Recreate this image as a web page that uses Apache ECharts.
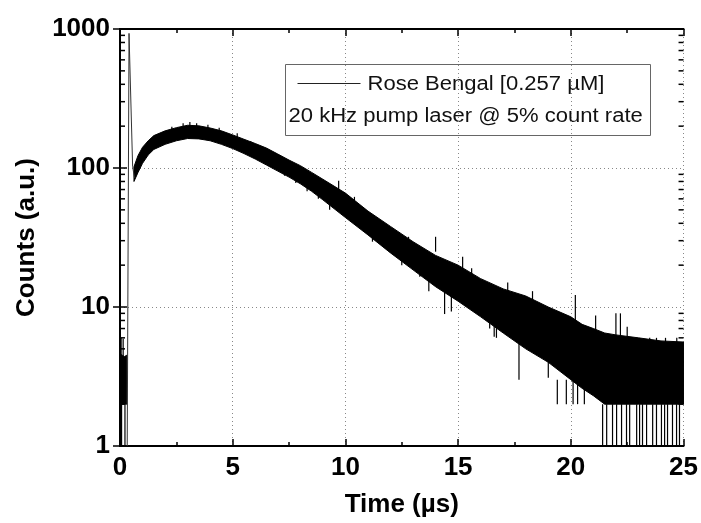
<!DOCTYPE html>
<html>
<head>
<meta charset="utf-8">
<script src="https://cdn.jsdelivr.net/npm/echarts@6/dist/echarts.min.js"></script>
<style>
html,body{margin:0;padding:0;background:#fff;}
#chart{width:701px;height:523px;}
</style>
</head>
<body>
<div id="chart"></div>
<script>
// ---- data ----
const xTicks = [0, 5, 10, 15, 20, 25];
const yTicks = [1, 10, 100, 1000];
const yMinorTicks = [2,3,4,5,6,7,8,9,20,30,40,50,60,70,80,90,200,300,400,500,600,700,800,900];

// pre-pulse background noise (µs, counts)
const earlyTime = [0.0, 0.10, 0.20, 0.30];
const earlyLow  = [2.0, 2.0, 2.0, 2.0];
const earlyHigh = [4.6, 4.5, 4.4, 4.5];

// instrument pulse (scatter) spike
const pulseTime   = [0.32, 0.40, 0.56, 0.64];
const pulseCounts = [1, 930, 103, 85];

// decay: dense noise band, lower and upper edges
const decayTime = [0.62, 0.8, 1.0, 1.25, 1.5, 2, 2.5, 3, 3.5, 4, 4.5, 5, 5.5, 6, 6.5, 7, 7.5, 8, 8.5, 9, 10, 11, 12, 13, 14, 15, 16, 17, 18, 19, 20, 20.5, 21, 21.5, 22, 23, 24, 25];
const decayLow  = [80, 93, 108, 124, 136, 148, 157, 163, 162, 157, 148, 138, 127, 116, 105, 95, 86, 77, 68, 59, 44, 33, 24.5, 18.5, 14, 11, 8.5, 6.5, 5, 4, 3, 2.6, 2.3, 2, 2, 2, 2, 2];
const decayHigh = [102, 123, 141, 157, 171, 185, 195, 203, 201, 194, 185, 173, 161, 150, 139, 126, 114, 104, 93, 83, 66, 49, 38, 29.5, 23.5, 20, 16, 13.5, 12, 10, 8.5, 7.5, 7, 6.5, 6.3, 6, 5.7, 5.6];

// isolated noise spikes: time, low, high
const spikeTime = [0.05, 0.07, 0.14, 0.22,
  1.1, 1.7, 2.3, 2.8, 3.1, 3.4, 3.9, 4.4, 5.2, 5.8, 6.3, 6.9, 7.3, 7.8, 8.3, 8.8, 9.3,
  9.7, 10.4, 10.8, 11.2, 11.5, 11.9, 12.5, 12.8, 13.3, 13.7, 14.0, 14.4, 14.7, 15.2, 15.6, 16.3, 16.4, 16.6, 16.7, 17.2, 17.7, 18.3, 19.0, 19.4, 19.8, 20.1, 20.2, 20.3, 20.6, 21.1, 22.0, 22.2, 22.5, 23.5, 23.8, 24.2, 24.7,
  21.41, 21.59, 21.85, 22.03, 22.25, 22.47, 22.61, 22.92, 23.05, 23.18, 23.36, 23.63, 23.80, 24.02, 24.16, 24.29, 24.51, 24.69, 24.82];
const spikeLow  = [4.5, 1, 4.4, 1,
  120, 150, 165, 175, 180, 178, 175, 168, 150, 128, 116, 100, 88, 78, 68, 60, 50,
  70, 50, 38, 29.5, 29.5, 26, 20, 21, 16.5, 13, 25, 8.9, 9.3, 18, 10, 7.9, 7, 6.1, 6, 9, 3, 7, 3.1, 2, 2, 2, 7, 2, 2, 6, 5, 5, 5, 4, 4, 4, 4,
  1, 1, 1, 1, 1, 1, 1, 1, 1, 1, 1, 1, 1, 1, 1, 1, 1, 1, 1];
const spikeHigh = [6, 2, 5.9, 2,
  132, 175, 198, 210, 214, 210, 205, 195, 178, 156, 144, 128, 116, 104, 95, 85, 72,
  81, 62, 52, 38, 42, 36, 30, 32, 22, 18, 32, 14, 13, 23, 19, 14, 13, 12, 12, 15, 6, 13, 6, 3, 3, 3, 12.2, 3, 3, 8.7, 9, 9, 7.2, 6, 6, 6, 6,
  2, 2, 2, 2, 2, 2, 2, 2, 2, 2, 2, 2, 2, 2, 2, 2, 2, 2, 2];

const legendName = 'Rose Bengal [0.257 \u00b5M]';
const legendNote = '20 kHz pump laser @ 5% count rate';

// ---- chart ----
const FONT = '"Liberation Sans", Arial, sans-serif';
const chart = echarts.init(document.getElementById('chart'), null, {renderer: 'canvas'});

function bandRender(times, lows, highs) {
  return function (params, api) {
    if (params.dataIndex !== 0) return null;
    const pts = [];
    for (let i = 0; i < times.length; i++) pts.push(api.coord([times[i], highs[i]]));
    for (let i = times.length - 1; i >= 0; i--) pts.push(api.coord([times[i], lows[i]]));
    return {type: 'polygon', shape: {points: pts}, style: {fill: '#000', stroke: '#000', lineWidth: 1}};
  };
}

const axisLine = {show: true, lineStyle: {color: '#000', width: 2}};
const grid = {left: 120, right: 17, top: 29, bottom: 75};

const option = {
  animation: false,
  backgroundColor: '#fff',
  grid: grid,
  xAxis: [{
    type: 'value', min: 0, max: 25, interval: 5, position: 'bottom',
    axisLine: axisLine,
    axisTick: {show: true, inside: true, length: 7, lineStyle: {color: '#000', width: 1.5}},
    minorTick: {show: true, splitNumber: 2, length: 4, lineStyle: {color: '#000', width: 1.5}},
    axisLabel: {fontFamily: FONT, fontWeight: 'bold', fontSize: 26, color: '#000', margin: 9,
      formatter: v => xTicks.indexOf(v) >= 0 ? String(v) : ''},
    splitLine: {show: true, lineStyle: {color: '#888', type: [1, 3], width: 1}},
    name: 'Time (\u00b5s)', nameLocation: 'middle', nameGap: 46,
    nameTextStyle: {fontFamily: FONT, fontWeight: 'bold', fontSize: 26, color: '#000'}
  }, {
    type: 'value', min: 0, max: 25, interval: 5, position: 'top',
    axisLine: axisLine,
    axisTick: {show: true, inside: true, length: 7, lineStyle: {color: '#000', width: 1.5}},
    minorTick: {show: true, splitNumber: 2, length: 4, lineStyle: {color: '#000', width: 1.5}},
    axisLabel: {show: false}, splitLine: {show: false}
  }],
  yAxis: [{
    type: 'log', logBase: 10, min: 1, max: 1000, position: 'left',
    axisLine: axisLine,
    axisTick: {show: true, inside: true, length: 7, lineStyle: {color: '#000', width: 1.5}},
    axisLabel: {fontFamily: FONT, fontWeight: 'bold', fontSize: 26, color: '#000', margin: 10,
      formatter: v => yTicks.indexOf(Math.round(v)) >= 0 ? String(Math.round(v)) : ''},
    splitLine: {show: true, lineStyle: {color: '#888', type: [1, 3], width: 1}},
    name: 'Counts (a.u.)', nameLocation: 'middle', nameGap: 80, nameRotate: 90,
    nameTextStyle: {fontFamily: FONT, fontWeight: 'bold', fontSize: 26, color: '#000'}
  }, {
    type: 'log', logBase: 10, min: 1, max: 1000, position: 'right',
    axisLine: axisLine,
    axisTick: {show: true, inside: true, length: 7, lineStyle: {color: '#000', width: 1.5}},
    axisLabel: {show: false}, splitLine: {show: false}
  }],
  series: [
    {
      type: 'custom', name: 'minor ticks', silent: true, clip: false,
      data: yMinorTicks.map(v => [0, v]),
      renderItem: function (params, api) {
        const v = api.value(1);
        const l = api.coord([0, v]);
        const r = api.coord([25, v]);
        return {type: 'group', children: [
          {type: 'line', shape: {x1: l[0], y1: l[1], x2: l[0] + 5, y2: l[1]}, style: {stroke: '#000', lineWidth: 1.5}},
          {type: 'line', shape: {x1: r[0], y1: r[1], x2: r[0] - 5, y2: r[1]}, style: {stroke: '#000', lineWidth: 1.5}}
        ]};
      },
      z: 5
    },
    {
      type: 'custom', name: 'early', silent: true, clip: true,
      data: earlyTime.map((t, i) => [t, earlyLow[i], earlyHigh[i]]),
      renderItem: bandRender(earlyTime, earlyLow, earlyHigh), z: 3
    },
    {
      type: 'custom', name: legendName, silent: true, clip: true,
      data: decayTime.map((t, i) => [t, decayLow[i], decayHigh[i]]),
      renderItem: bandRender(decayTime, decayLow, decayHigh), z: 3
    },
    {
      type: 'custom', name: 'spikes', silent: true, clip: true,
      data: spikeTime.map((t, i) => [t, spikeLow[i], spikeHigh[i]]),
      renderItem: function (params, api) {
        const a = api.coord([api.value(0), api.value(1)]);
        const b = api.coord([api.value(0), api.value(2)]);
        return {type: 'line', shape: {x1: a[0], y1: a[1], x2: b[0], y2: b[1]}, style: {stroke: '#000', lineWidth: 1.2}};
      },
      z: 3
    },
    {
      type: 'line', name: 'pulse', silent: true, symbol: 'none',
      data: pulseTime.map((t, i) => [t, pulseCounts[i]]),
      lineStyle: {color: '#333', width: 1}, z: 3
    }
  ],
  graphic: [{
    type: 'group', left: 285, top: 64, z: 100,
    children: [
      {type: 'rect', shape: {x: 0, y: 0, width: 365, height: 71}, style: {fill: '#fff', stroke: '#666', lineWidth: 1}},
      {type: 'line', shape: {x1: 12, y1: 19, x2: 75, y2: 19}, style: {stroke: '#222', lineWidth: 1}},
      {type: 'text', x: 82, y: 20, scaleX: 1.13, style: {text: legendName, font: '19.5px ' + FONT, fill: '#111', verticalAlign: 'middle'}},
      {type: 'text', x: 3, y: 52, scaleX: 1.13, style: {text: legendNote, font: '19.5px ' + FONT, fill: '#111', verticalAlign: 'middle'}}
    ]
  }]
};
chart.setOption(option);
</script>
</body>
</html>
